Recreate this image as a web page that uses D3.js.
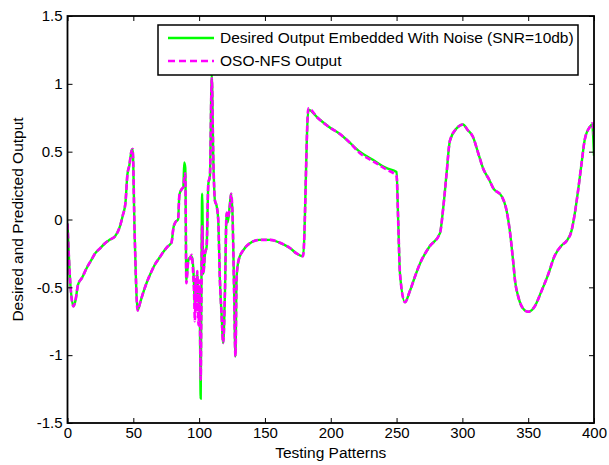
<!DOCTYPE html>
<html>
<head>
<meta charset="utf-8">
<script src="https://cdn.jsdelivr.net/npm/d3@7"></script>
<style>
  body { margin: 0; background: #fff; }
  text { font-family: "Liberation Sans", Arial, sans-serif; fill: #000; }
</style>
</head>
<body>
<div id="chart"></div>
<script>
// Data
const patterns = [0, 2, 4.5, 6, 8, 11, 15, 18, 21, 25, 28.5, 32, 36, 39.5, 42, 44, 45.5, 47, 48.5, 49.5,
  51, 53.3, 55, 56.5, 60, 63, 66.5, 70, 72, 76, 79, 80.5, 82, 84, 85, 86.5, 88, 88.7, 89.5,
  90.3, 91.8, 93, 94.3, 95.5, 96.2, 96.8, 97.5, 98.1, 98.6, 99, 99.6, 100.3, 101.2, 101.6, 102.3, 103.2, 104.4,
  105.7, 107, 108.2, 109.6, 110.8, 112, 113.3, 114.5, 115.8, 117, 118.3, 119.6, 120.9, 121.8, 123.4,
  124.3, 125.4, 126.6, 127.6, 128.5, 130, 133.6, 138.6, 146, 154, 161, 169, 174, 179, 183, 190,
  199, 207, 213, 222, 232, 242, 250, 251.3, 252.6, 256.4, 260, 264, 268, 275, 283, 285.5, 288,
  290.5, 295.5, 300.5, 304, 308, 312, 316, 320, 323.5, 330, 333.5, 336, 338.7, 340, 342.5, 346,
  350, 355, 360, 365, 370, 375.5, 379, 383, 385.5, 388, 390.5, 393, 397, 398.6, 400];

const desired = [-0.03, -0.45, -0.64, -0.60, -0.48, -0.43, -0.35, -0.30, -0.25, -0.21, -0.175, -0.15, -0.125, -0.06, 0.03, 0.12, 0.33, 0.40, 0.50, 0.52,
  -0.1, -0.67, -0.62, -0.57, -0.47, -0.40, -0.33, -0.28, -0.25, -0.20, -0.17, -0.06, -0.02, 0.0, 0.18, 0.22, 0.24, 0.42, 0.38,
  -0.45, -0.30, -0.28, -0.27, -0.35, -0.50, -0.65, -0.45, -0.55, -0.40, -0.50, -0.62, -0.55, -1.32, -0.70, 0.19, -0.40, -0.26,
  -0.20, 0.26, 0.32, 1.07, 0.44, 0.14, 0.10, 0.0, -0.45, -0.69, -0.91, -0.54, 0.05, -0.02, 0.12,
  0.19, 0.03, -0.52, -1.01, -0.42, -0.30, -0.225, -0.175, -0.15, -0.15, -0.17, -0.21, -0.25, -0.27, 0.81, 0.75,
  0.68, 0.63, 0.58, 0.50, 0.44, 0.38, 0.35, -0.03, -0.40, -0.61, -0.53, -0.42, -0.32, -0.20, -0.10, 0.09, 0.34,
  0.58, 0.67, 0.70, 0.66, 0.61, 0.49, 0.37, 0.30, 0.23, 0.17, 0.07, -0.08, -0.32, -0.45, -0.57, -0.655,
  -0.68, -0.64, -0.53, -0.41, -0.27, -0.19, -0.16, -0.08, 0.05, 0.22, 0.41, 0.59, 0.685, 0.70, 0.47];

const predicted = [-0.03, -0.45, -0.64, -0.60, -0.48, -0.43, -0.35, -0.30, -0.25, -0.21, -0.175, -0.15, -0.125, -0.06, 0.03, 0.12, 0.33, 0.40, 0.50, 0.52,
  -0.1, -0.67, -0.62, -0.57, -0.47, -0.40, -0.33, -0.28, -0.25, -0.20, -0.17, -0.06, -0.02, 0.0, 0.18, 0.22, 0.24, 0.30, 0.34,
  -0.47, -0.30, -0.29, -0.26, -0.40, -0.55, -0.75, -0.42, -0.68, -0.38, -0.62, -0.78, -0.45, -1.18, -0.75, -0.05, -0.40, -0.25,
  -0.20, 0.27, 0.32, 1.04, 0.44, 0.14, 0.10, 0.0, -0.45, -0.69, -0.91, -0.54, 0.05, 0.02, 0.10,
  0.19, 0.03, -0.55, -1.01, -0.42, -0.30, -0.225, -0.175, -0.15, -0.15, -0.17, -0.21, -0.25, -0.27, 0.82, 0.75,
  0.68, 0.63, 0.58, 0.49, 0.43, 0.37, 0.32, -0.03, -0.40, -0.61, -0.53, -0.42, -0.32, -0.20, -0.10, 0.09, 0.34,
  0.58, 0.67, 0.70, 0.66, 0.61, 0.49, 0.37, 0.30, 0.23, 0.17, 0.07, -0.08, -0.32, -0.45, -0.57, -0.655,
  -0.68, -0.64, -0.53, -0.41, -0.27, -0.19, -0.16, -0.08, 0.05, 0.22, 0.41, 0.59, 0.685, 0.71, 0.62];

const xTicks = [0, 50, 100, 150, 200, 250, 300, 350, 400];
const yTicks = [-1.5, -1, -0.5, 0, 0.5, 1, 1.5];
const legendLabels = ["Desired Output Embedded With Noise (SNR=10db)", "OSO-NFS Output"];

// Layout
const width = 609;
const height = 465;
const margin = { top: 16, right: 15, bottom: 42, left: 67.5 };
const innerW = width - margin.left - margin.right;
const innerH = height - margin.top - margin.bottom;

const svg = d3.select("#chart")
  .append("svg")
    .attr("width", width)
    .attr("height", height);

const g = svg.append("g")
  .attr("transform", `translate(${margin.left},${margin.top})`);

const x = d3.scaleLinear().domain([0, 400]).range([0, innerW]);
const y = d3.scaleLinear().domain([-1.5, 1.5]).range([innerH, 0]);

// clip
svg.append("defs").append("clipPath").attr("id", "clip")
  .append("rect").attr("width", innerW).attr("height", innerH);

// Lines
const line = (vals) => d3.line()
  .x((d, i) => x(patterns[i]))
  .y((d) => y(d))
  .curve(d3.curveMonotoneX)(vals);

const plot = g.append("g").attr("clip-path", "url(#clip)");

plot.append("path")
  .attr("d", line(desired))
  .attr("fill", "none")
  .attr("stroke", "#00ff00")
  .attr("stroke-width", 2.4);

plot.append("path")
  .attr("d", line(predicted))
  .attr("fill", "none")
  .attr("stroke", "#ff00ff")
  .attr("stroke-width", 2.6)
  .attr("stroke-dasharray", "6,3");

// Axes (ticks pointing inward, MATLAB style)
const styleAxis = (sel) => {
  sel.select(".domain").remove();
  sel.selectAll(".tick line").attr("stroke", "#000").attr("stroke-width", 1);
  sel.selectAll(".tick text").style("font-size", "15px").style("font-family", "'Liberation Sans', Arial, sans-serif");
};

g.append("g")
  .attr("transform", `translate(0,${innerH})`)
  .call(d3.axisBottom(x).tickValues(xTicks).tickSizeInner(-5).tickSizeOuter(0).tickPadding(4).tickFormat(d3.format("d")))
  .call(styleAxis);

g.append("g")
  .call(d3.axisTop(x).tickValues(xTicks).tickSizeInner(-5).tickSizeOuter(0).tickFormat(""))
  .call(styleAxis);

g.append("g")
  .call(d3.axisLeft(y).tickValues(yTicks).tickSizeInner(-5).tickSizeOuter(0).tickPadding(5).tickFormat((d) => String(d)))
  .call(styleAxis);

g.append("g")
  .attr("transform", `translate(${innerW},0)`)
  .call(d3.axisRight(y).tickValues(yTicks).tickSizeInner(-5).tickSizeOuter(0).tickFormat(""))
  .call(styleAxis);

// Box
g.append("rect")
  .attr("width", innerW)
  .attr("height", innerH)
  .attr("fill", "none")
  .attr("stroke", "#000")
  .attr("stroke-width", 1.8);

// Axis labels
svg.append("text")
  .attr("x", margin.left + innerW / 2)
  .attr("y", 458)
  .attr("text-anchor", "middle")
  .style("font-size", "15.5px")
  .text("Testing Patterns");

svg.append("text")
  .attr("transform", `translate(23,${margin.top + innerH / 2}) rotate(-90)`)
  .attr("text-anchor", "middle")
  .style("font-size", "15.5px")
  .text("Desired and Predicted Output");

// Legend
const legend = svg.append("g").attr("transform", "translate(158,25)");

legend.append("rect")
  .attr("width", 420)
  .attr("height", 50)
  .attr("fill", "#fff")
  .attr("stroke", "#000")
  .attr("stroke-width", 1.5);

const items = legend.selectAll(".legend-item")
  .data(legendLabels)
  .enter().append("g")
    .attr("class", "legend-item")
    .attr("transform", (d, i) => `translate(0,${13 + i * 23})`);

items.append("line")
  .attr("x1", 10)
  .attr("x2", 56)
  .attr("stroke", (d, i) => i === 0 ? "#00ff00" : "#ff00ff")
  .attr("stroke-width", 2.4)
  .attr("stroke-dasharray", (d, i) => i === 0 ? null : "7,4");

items.append("text")
  .attr("x", 62)
  .attr("y", 5)
  .style("font-size", "15.5px")
  .text((d) => d);
</script>
</body>
</html>
